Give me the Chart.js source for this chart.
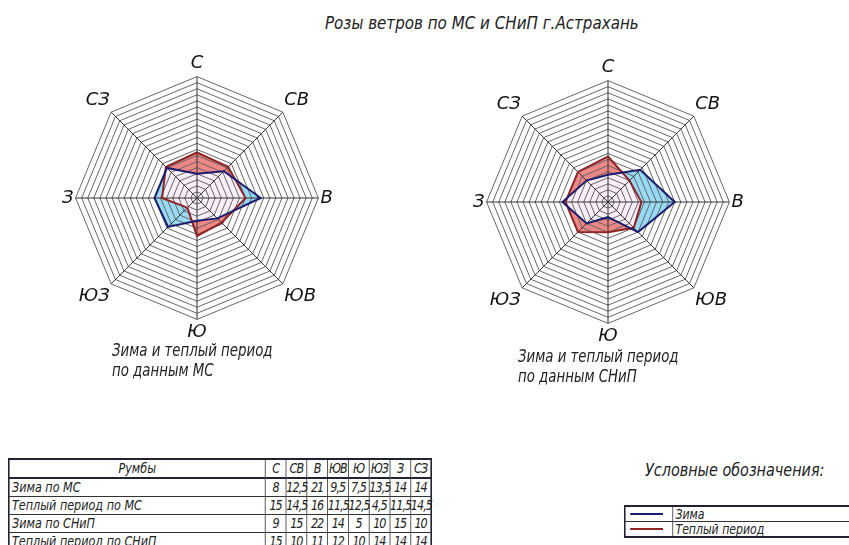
<!DOCTYPE html>
<html>
<head>
<meta charset="utf-8">
<script src="https://cdn.jsdelivr.net/npm/chart.js@4"></script>
<style>
  body { margin: 0; background: #fff; width: 849px; height: 545px; overflow: hidden; position: relative;
         font-family: 'DejaVu Sans', sans-serif; font-style: italic; color: #222; }
  .abs { position: absolute; white-space: nowrap; }
  .nar { transform-origin: 0 0; }
  #title { left: 325px; top: 12px; font-size: 18px; transform: scaleX(0.84); }
  .cap { font-size: 18px; line-height: 20px; transform: scaleX(0.74); }
  table { border-collapse: collapse; table-layout: fixed; }
  #data { left: 8px; top: 458px; width: 530px; border: 2px solid #223; font-size: 14px; transform: scaleX(0.8); }
  #data td { border: 1px solid #333; height: 17px; padding: 0 3px; line-height: 17px; overflow: visible; }
  #data td.n { padding: 0; text-align: center; letter-spacing: -1.2px; }
  #data tr:first-child td { border-bottom: 2px solid #223; }
  #legTitle { left: 645px; top: 459px; font-size: 18px; transform: scaleX(0.8); }
  #legend { left: 624px; top: 505px; border: 2px solid #223; font-size: 14px; width: 320px; transform: scaleX(0.78); }
  #legend td { border: 1px solid #333; height: 14px; padding: 0 3px; line-height: 14px; }
  #legend td.s { width: 54px; }
  .ln { height: 0; border-top: 2px solid; width: 42px; margin: 0 3px; }
</style>
</head>
<body>
<div id="title" class="abs nar">Розы ветров по МС и СНиП г.Астрахань</div>
<canvas id="roseMS" class="abs" width="320" height="290" style="left:37px;top:54px"></canvas>
<canvas id="roseSNiP" class="abs" width="320" height="290" style="left:448px;top:58px"></canvas>
<div class="abs nar cap" style="left:112px;top:340px">Зима и теплый период<br>по данным МС</div>
<div class="abs nar cap" style="left:518px;top:346px">Зима и теплый период<br>по данным СНиП</div>
<table id="data" class="abs nar"></table>
<div id="legTitle" class="abs nar">Условные обозначения:</div>
<table id="legend" class="abs nar">
  <tr><td class="s"><div class="ln" style="border-color:#1c1c6e"></div></td><td>Зима</td></tr>
  <tr><td class="s"><div class="ln" style="border-color:#8e2424"></div></td><td>Теплый период</td></tr>
</table>
<script>
// румбы и повторяемость ветра, %
const rumbs = ['С', 'СВ', 'В', 'ЮВ', 'Ю', 'ЮЗ', 'З', 'СЗ'];
const winterMS = [8, 12.5, 21, 9.5, 7.5, 13.5, 14, 14];
const warmMS = [15, 14.5, 16, 11.5, 12.5, 4.5, 11.5, 14.5];
const winterSNiP = [9, 15, 22, 14, 5, 10, 15, 10];
const warmSNiP = [15, 10, 11, 12, 10, 14, 14, 14];

const fontFam = "'DejaVu Sans', sans-serif";

// таблица румбов
const rows = [
  ['Румбы', rumbs],
  ['Зима по МС', winterMS],
  ['Теплый период по МС', warmMS],
  ['Зима по СНиП', winterSNiP],
  ['Теплый период по СНиП', warmSNiP]
];
const tbl = document.getElementById('data');
rows.forEach((r, i) => {
  const tr = document.createElement('tr');
  const th = document.createElement('td');
  th.textContent = r[0];
  th.style.width = '313px';
  if (i === 0) th.style.textAlign = 'center';
  tr.appendChild(th);
  r[1].forEach(v => {
    const td = document.createElement('td');
    td.className = 'n';
    td.textContent = String(v).replace('.', ',');
    tr.appendChild(td);
  });
  tbl.appendChild(tr);
});

// заливка "теплого" периода смешивается с зимней в режиме screen,
// контуры рисуются в самом конце, поверх сетки
// (Filler рисует заливку раньше нашего beforeDatasetDraw, поэтому режим
//  ставим в afterDatasetDraw предыдущего набора)
const blendPlugin = {
  id: 'blend',
  beforeDatasetsDraw(chart) {
    chart.ctx.globalCompositeOperation = 'source-over';
  },
  beforeDatasetDraw(chart, args) {
    if (chart.data.datasets[args.index].lineOnly) return false;
  },
  afterDatasetDraw(chart, args) {
    const next = chart.data.datasets[args.index - 1];
    chart.ctx.globalCompositeOperation = (next && next.blend) || 'source-over';
  },
  afterDatasetsDraw(chart) {
    chart.ctx.globalCompositeOperation = 'source-over';
  },
  afterDraw(chart) {
    chart.data.datasets.forEach((ds, i) => {
      if (ds.lineOnly) chart.getDatasetMeta(i).controller.draw();
    });
  }
};

function rose(id, winter, warm) {
  new Chart(document.getElementById(id), {
    type: 'radar',
    data: {
      labels: rumbs,
      datasets: [
        // индекс 0 рисуется последним -> режим screen поверх синей заливки
        { data: warm, fill: true, backgroundColor: 'rgb(240,135,135)', borderWidth: 0, pointRadius: 0, blend: 'screen' },
        { data: winter, fill: true, backgroundColor: 'rgb(150,218,245)', borderWidth: 0, pointRadius: 0 },
        { data: warm, fill: false, borderColor: '#8e2424', borderWidth: 2, pointRadius: 0, lineOnly: true },
        { data: winter, fill: false, borderColor: '#1c1c6e', borderWidth: 2, pointRadius: 0, lineOnly: true }
      ]
    },
    options: {
      responsive: false,
      animation: false,
      layout: { padding: 0 },
      plugins: { legend: { display: false }, tooltip: { enabled: false } },
      elements: { line: { tension: 0 } },
      scales: {
        r: {
          min: 0,
          max: 40,
          ticks: { stepSize: 2, display: false, z: 1 },
          grid: { color: '#666', lineWidth: 1, z: 1 },
          angleLines: { color: '#333', lineWidth: 1 },
          pointLabels: { color: '#111', padding: 2, font: { family: fontFam, size: 18, style: 'italic' } }
        }
      }
    },
    plugins: [blendPlugin]
  });
}

rose('roseMS', winterMS, warmMS);
rose('roseSNiP', winterSNiP, warmSNiP);
</script>
</body>
</html>
